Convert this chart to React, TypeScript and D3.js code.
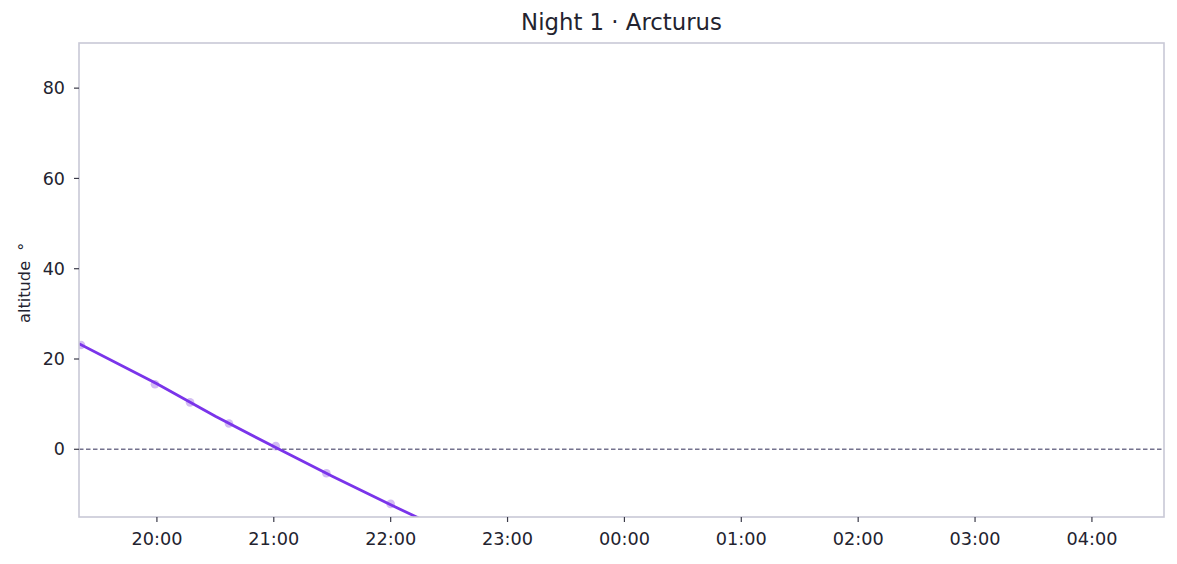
import * as d3 from "d3";

// altitude curve of Arcturus over the night (hh:mm, degrees)
const curveTimes = ["19:20", "20:00", "20:30", "21:00", "21:30", "22:00", "22:30", "23:00"];
const curveAlt = [23.4, 14.5, 7.3, 0.6, -6.0, -12.3, -18.4, -24.3];

// observed samples
const sampleTimes = ["19:21", "19:59", "20:17", "20:37", "21:01", "21:27", "22:00"];
const sampleAlt = [23.1, 14.4, 10.4, 5.7, 0.7, -5.3, -12.1];

const yTicks = [0, 20, 40, 60, 80];
const xTickHours = ["20:00", "21:00", "22:00", "23:00", "00:00", "01:00", "02:00", "03:00", "04:00"];

const nightStart = "19:20";
const nightEnd = "04:37";
const yDomain: [number, number] = [-15, 90];

function toDate(hm: string) {
  const [h, m] = hm.split(":").map(Number);
  // times after noon belong to the evening, the rest to the next morning
  return new Date(2024, 0, h >= 12 ? 1 : 2, h, m);
}

const width = 1177;
const height = 564;
const marginLeft = 79;
const marginRight = 13;
const marginTop = 43;
const marginBottom = 47;

const font = "DejaVu Sans, sans-serif";
const textColor = "#23232f";
const frameColor = "#c9c9d6";

export default function App() {
  const x = d3
    .scaleTime()
    .domain([toDate(nightStart), toDate(nightEnd)])
    .range([marginLeft, width - marginRight]);

  const y = d3
    .scaleLinear()
    .domain(yDomain)
    .range([height - marginBottom, marginTop]);

  const curve = curveTimes.map((t, i) => [toDate(t), curveAlt[i]] as [Date, number]);
  const line = d3
    .line<[Date, number]>()
    .x((d) => x(d[0]))
    .y((d) => y(d[1]));

  const x0 = marginLeft;
  const x1 = width - marginRight;
  const y0 = height - marginBottom;
  const y1 = marginTop;

  return (
    <svg
      width={width}
      height={height}
      style={{ position: "absolute", left: 0, top: 0, background: "#fff" }}
      fontFamily={font}
    >
      <defs>
        <clipPath id="plot">
          <rect x={x0} y={y1} width={x1 - x0} height={y0 - y1} />
        </clipPath>
      </defs>

      <text x={(x0 + x1) / 2} y={30} textAnchor="middle" fontSize={22.8} fill={textColor}>
        Night 1 · Arcturus
      </text>

      {/* zero line */}
      <line
        x1={x0}
        x2={x1}
        y1={y(0)}
        y2={y(0)}
        stroke="#74728e"
        strokeWidth={1.4}
        strokeDasharray="4.5,2.5"
      />

      <g clipPath="url(#plot)">
        {sampleTimes.map((t, i) => (
          <circle
            key={t}
            cx={x(toDate(t))}
            cy={y(sampleAlt[i])}
            r={4.3}
            fill="#a77be8"
            opacity={0.5}
          />
        ))}
        <path d={line(curve) || ""} fill="none" stroke="#7a34ea" strokeWidth={2.8} />
      </g>

      {/* frame */}
      <rect x={x0} y={y1} width={x1 - x0} height={y0 - y1} fill="none" stroke={frameColor} strokeWidth={1.6} />

      {/* y axis */}
      {yTicks.map((v) => (
        <g key={v} transform={`translate(0,${y(v)})`}>
          <line x1={x0 - 5} x2={x0} stroke="#3a3a48" strokeWidth={1.2} />
          <text x={x0 - 14} dy="0.35em" textAnchor="end" fontSize={17.5} fill={textColor}>
            {v}
          </text>
        </g>
      ))}

      {/* x axis */}
      {xTickHours.map((t) => (
        <g key={t} transform={`translate(${x(toDate(t))},0)`}>
          <line y1={y0} y2={y0 + 5} stroke="#3a3a48" strokeWidth={1.2} />
          <text y={545} textAnchor="middle" fontSize={17.7} fill={textColor}>
            {d3.timeFormat("%H:%M")(toDate(t))}
          </text>
        </g>
      ))}

      <text
        transform={`translate(29.5,323) rotate(-90)`}
        textAnchor="start"
        fontSize={16.2}
        fill={textColor}
      >
        altitude <tspan dx={5}>°</tspan>
      </text>
    </svg>
  );
}
